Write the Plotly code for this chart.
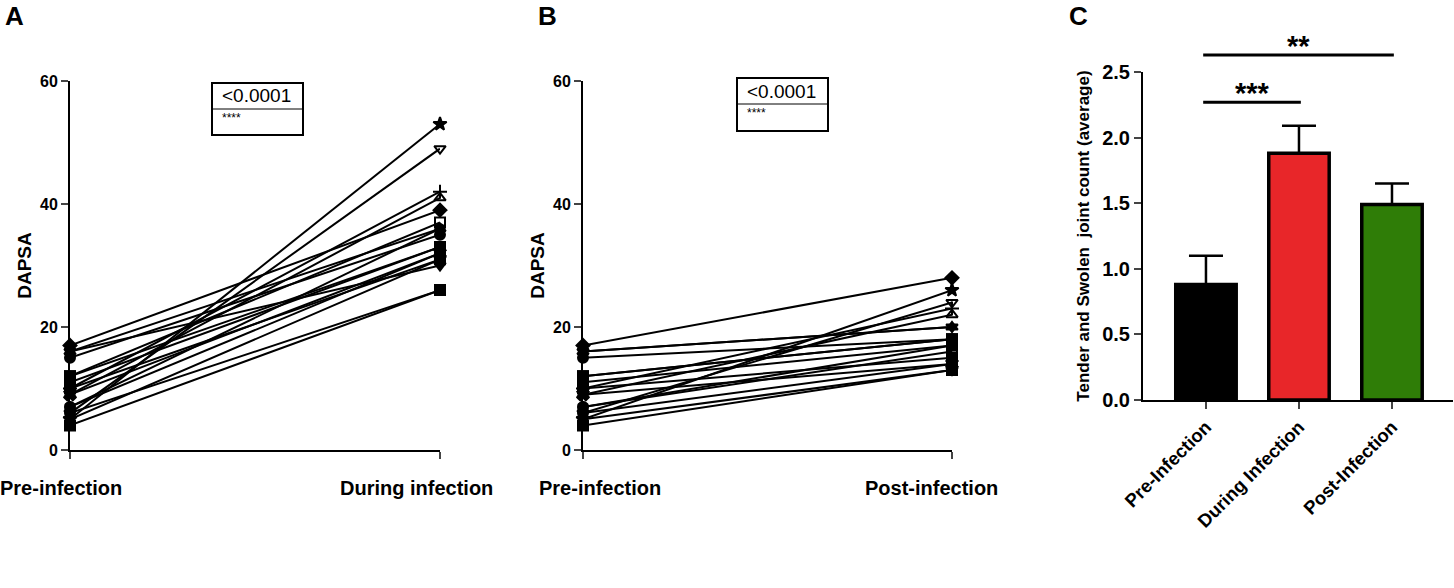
import plotly.graph_objects as go

# ---------------- data ----------------
symbols = ["diamond", "star", "triangle-down-open", "cross-thin", "triangle-up-open",
           "triangle-down", "square-open", "circle", "square", "circle-open",
           "triangle-up", "square", "x", "hexagon", "square-x", "circle",
           "triangle-down", "square"]
pre_vals = [17, 5, 6, 10, 9, 16, 12, 15, 11, 7, 16, 10, 9, 7, 4, 6, 5, 12]
during_vals = [39, 53, 49, 42, 41, 30, 37, 35, 33, 32, 36, 31, 32, 36, 26, 26, 31, 33]
post_vals = [28, 26, 24, 23, 22, 20, 18, 18, 17, 16, 20, 15, 14, 17, 13, 14, 13, 18]

a_labels = ["Pre-infection", "During infection"]
b_labels = ["Pre-infection", "Post-infection"]
p_text = "<0.0001"
p_stars = "****"

c_categories = ["Pre-Infection", "During Infection", "Post-Infection"]
c_means = [0.88, 1.88, 1.49]
c_sem = [0.22, 0.21, 0.16]
c_colors = ["#000000", "#e82629", "#2f7d07"]
c_sig = [(0, 1, 2.27, "***"), (0, 2, 2.63, "**")]

W, H = 1454, 588
def px(x): return x / W
def py(y): return 1 - y / H

FONT = "Liberation Sans, Arial, sans-serif"

fig = go.Figure()

# Panels A and B
for i, (sym, a, d, p) in enumerate(zip(symbols, pre_vals, during_vals, post_vals)):
    mk = dict(symbol=sym, size=10, color="black", line=dict(color="black", width=2))
    fig.add_trace(go.Scatter(x=[0, 1], y=[a, d], mode="lines+markers",
                             line=dict(color="black", width=2), marker=mk,
                             cliponaxis=False, showlegend=False, xaxis="x", yaxis="y"))
    fig.add_trace(go.Scatter(x=[0, 1], y=[a, p], mode="lines+markers",
                             line=dict(color="black", width=2), marker=mk,
                             cliponaxis=False, showlegend=False, xaxis="x2", yaxis="y2"))

# Panel C bars
fig.add_trace(go.Bar(x=list(range(len(c_categories))), y=c_means, width=0.65,
                     marker=dict(color=c_colors, line=dict(color="black", width=3.5)),
                     error_y=dict(type="data", symmetric=False, array=c_sem,
                                  arrayminus=[0] * len(c_sem), color="black",
                                  thickness=2.5, width=17),
                     showlegend=False, xaxis="x3", yaxis="y3"))

ydomAB = [py(450), py(81)]
ydomC = [py(400), py(72)]

yax_common = dict(range=[0, 60], tickvals=[0, 20, 40, 60], ticks="outside", ticklen=7,
                  tickwidth=2, showline=True, linewidth=2, linecolor="black",
                  showgrid=False, zeroline=False,
                  tickfont=dict(family=FONT, size=16, color="black", weight="bold"),
                  title=dict(text="DAPSA", standoff=3,
                             font=dict(family=FONT, size=19, color="black", weight="bold")))
xax_common = dict(range=[0, 1], tickvals=[0, 1], ticks="outside", ticklen=7, tickwidth=2,
                  showline=True, linewidth=2, linecolor="black", showgrid=False,
                  zeroline=False, showticklabels=False)

fig.update_layout(
    width=W, height=H, margin=dict(l=0, r=0, t=0, b=0, autoexpand=False),
    paper_bgcolor="white", plot_bgcolor="white",
    xaxis=dict(domain=[px(70), px(440)], anchor="y", **xax_common),
    yaxis=dict(domain=ydomAB, anchor="x", **yax_common),
    xaxis2=dict(domain=[px(583), px(952)], anchor="y2", **xax_common),
    yaxis2=dict(domain=ydomAB, anchor="x2", **yax_common),
    xaxis3=dict(domain=[px(1143), px(1453)], anchor="y3",
                range=[-0.677, 2.656], tickvals=list(range(len(c_categories))),
                ticktext=c_categories, tickangle=-45, ticks="outside", ticklen=7,
                tickwidth=2, showline=True, linewidth=2, linecolor="black",
                showgrid=False, zeroline=False,
                tickfont=dict(family=FONT, size=18.5, color="black", weight="bold")),
    yaxis3=dict(domain=ydomC, anchor="x3", range=[0, 2.5],
                tickvals=[0, 0.5, 1.0, 1.5, 2.0, 2.5], tickformat=".1f",
                ticks="outside", ticklen=7, tickwidth=2, showline=True, linewidth=2,
                linecolor="black", showgrid=False, zeroline=False,
                tickfont=dict(family=FONT, size=20, color="black", weight="bold"),
                title=dict(text="Tender and Swolen  joint count (average)", standoff=8,
                           font=dict(family=FONT, size=17, color="black", weight="bold"))),
)

shapes = []
annotations = []

# p-value boxes
for (x0, x1, y0, y1, ymid, tx) in [(212, 303, 83, 135, 109, 222), (737, 828, 78, 131, 104, 747)]:
    shapes.append(dict(type="rect", xref="paper", yref="paper", x0=px(x0), x1=px(x1),
                       y0=py(y1), y1=py(y0), line=dict(color="black", width=2)))
    shapes.append(dict(type="line", xref="paper", yref="paper", x0=px(x0), x1=px(x1),
                       y0=py(ymid), y1=py(ymid), line=dict(color="black", width=1)))
    annotations.append(dict(text=p_text, xref="paper", yref="paper", x=px(tx - 2), y=py((y0 + ymid) / 2),
                            xanchor="left", yanchor="middle", showarrow=False,
                            font=dict(family=FONT, size=19, color="black")))
    annotations.append(dict(text=p_stars, xref="paper", yref="paper", x=px(tx - 2), y=py(ymid + 9),
                            xanchor="left", yanchor="middle", showarrow=False,
                            font=dict(family=FONT, size=12, color="black")))

# category labels for A and B
LABEL_Y = 488
for lab, cx in zip(a_labels, [61, 416]):
    annotations.append(dict(text=lab, xref="paper", yref="paper", x=px(cx), y=py(LABEL_Y),
                            xanchor="center", yanchor="middle", showarrow=False,
                            font=dict(family=FONT, size=20, color="black", weight="bold")))
for lab, cx in zip(b_labels, [600, 931]):
    annotations.append(dict(text=lab, xref="paper", yref="paper", x=px(cx), y=py(LABEL_Y),
                            xanchor="center", yanchor="middle", showarrow=False,
                            font=dict(family=FONT, size=20, color="black", weight="bold")))

# panel letters
for letter, cx in [("A", 14), ("B", 547), ("C", 1078)]:
    annotations.append(dict(text=letter, xref="paper", yref="paper", x=px(cx), y=py(16),
                            xanchor="center", yanchor="middle", showarrow=False,
                            font=dict(family=FONT, size=26, color="black", weight="bold")))

# significance brackets in C
def cy(v):
    return ydomC[0] + v / 2.5 * (ydomC[1] - ydomC[0])
for (i0, i1, lvl, st) in c_sig:
    shapes.append(dict(type="line", xref="x3", yref="paper", x0=i0 - 0.03, x1=i1 + 0.02,
                       y0=cy(lvl), y1=cy(lvl), line=dict(color="black", width=3)))
    annotations.append(dict(text=st, xref="x3", yref="paper", x=(i0 + i1) / 2, y=cy(lvl),
                            xanchor="center", yanchor="bottom", yshift=-9, showarrow=False,
                            font=dict(family=FONT, size=29, color="black", weight="bold")))

fig.update_layout(shapes=shapes, annotations=annotations)
fig.write_html("out.html", config={"displayModeBar": False},
               post_script="document.body.style.margin='0';document.body.style.overflow='hidden';")
